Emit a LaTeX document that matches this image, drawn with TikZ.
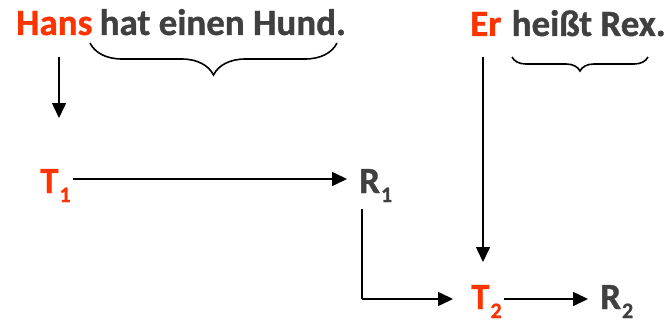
\documentclass[tikz,border=0pt]{standalone}
\usepackage{fontspec}
\setmainfont{Carlito}
\newfontfamily\heavy{Carlito Bold}[FakeBold=1]
\usetikzlibrary{arrows.meta,decorations.pathreplacing}
\definecolor{hl}{RGB}{255,51,0}
\definecolor{txt}{RGB}{64,64,64}
\newcommand{\sublabel}[2]{#1\kern1pt\raisebox{-9pt}{\fontsize{22}{22}\selectfont #2}}
\tikzset{
  word/.style={inner sep=0pt, anchor=base west, font=\heavy\fontsize{37}{40}\selectfont},
  focus/.style={word, text=hl},
  plain/.style={word, text=txt},
  arr/.style={line width=1.6pt, -{Triangle[length=15pt,width=14pt]}},
  link/.style={line width=1.6pt},
  bracket/.style={line width=1.6pt, decorate, decoration={brace, mirror, amplitude=#1}}
}
\begin{document}
\begin{tikzpicture}[x=1pt,y=-1pt]
  \useasboundingbox (0,0) rectangle (671,321);
  % first sentence
  \node[focus] (hans) at (16,35) {Hans};
  \node[plain] (rest1) at (99.5,35) {hat einen Hund.};
  % second sentence
  \node[focus] (er) at (470,36) {Er};
  \node[plain] (rest2) at (511.5,36) {heißt Rex.};
  % theme / rheme labels
  \node[focus] (t1) at (40,193) {\sublabel{T}{1}};
  \node[plain] (r1) at (359,193) {\sublabel{R}{1}};
  \node[focus] (t2) at (471,309) {\sublabel{T}{2}};
  \node[plain] (r2) at (600,309) {\sublabel{R}{2}};
  % braces under the rhemes
  \draw[bracket=32pt] (90,43) -- (337,43);
  \draw[bracket=14pt] (512,57) -- (648,57);
  % arrow ends
  \coordinate (a1s) at (59,57);
  \coordinate (a1e) at (59,118);
  \coordinate (a2s) at (483,57);
  \coordinate (a2e) at (483,262);
  \coordinate (k1) at (362,209);
  \coordinate (k2) at (362,299);
  % connectors
  \draw[arr] (a1s) -- (a1e);
  \draw[arr] (t1.base east) ++(2,-14) -- (347,179);
  \draw[arr] (a2s) -- (a2e);
  \draw[link] (k1) -- (k2);
  \draw[arr] (k2) -- (453,299);
  \draw[arr] (t2.base east) ++(2,-10) -- (588,299);
\end{tikzpicture}
\end{document}
